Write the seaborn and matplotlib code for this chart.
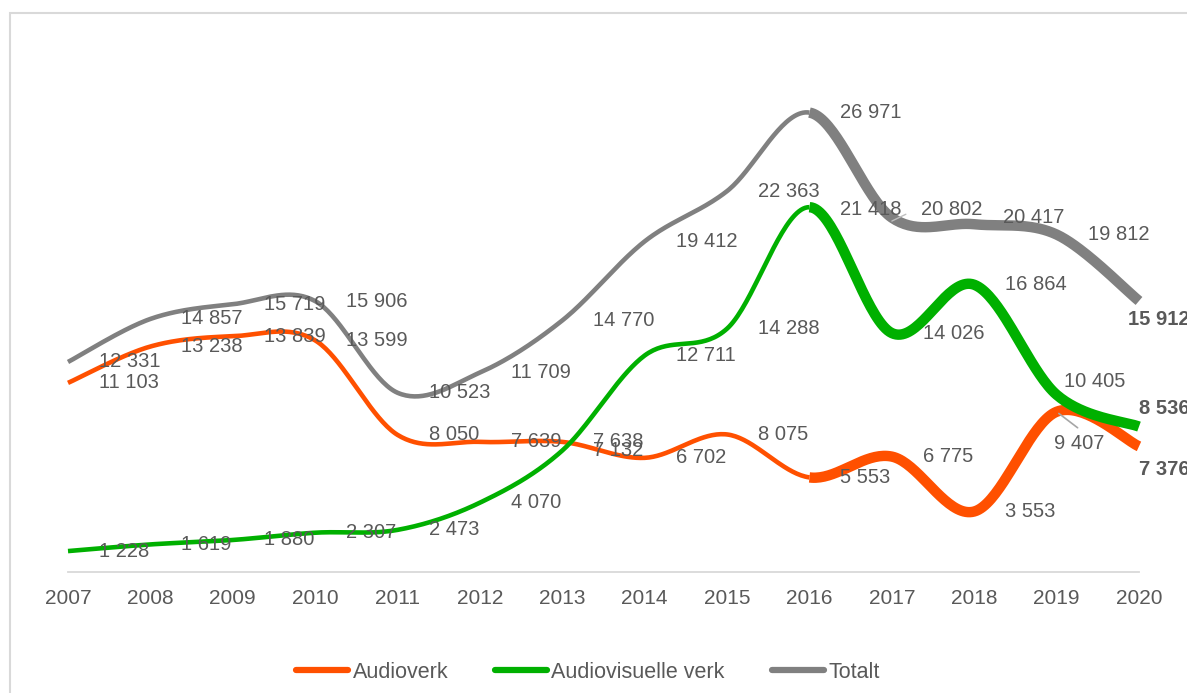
import numpy as np
import matplotlib.pyplot as plt
import seaborn as sns
from matplotlib.lines import Line2D
from matplotlib.patches import Rectangle

years = list(range(2007, 2021))
audioverk = [11103, 13238, 13839, 13599, 8050, 7639, 7638, 6702, 8075, 5553, 6775, 3553, 9407, 7376]
audiovisuelle = [1228, 1619, 1880, 2307, 2473, 4070, 7132, 12711, 14288, 21418, 14026, 16864, 10405, 8536]
totalt = [12331, 14857, 15719, 15906, 10523, 11709, 14770, 19412, 22363, 26971, 20802, 20417, 19812, 15912]

names = ["Audioverk", "Audiovisuelle verk", "Totalt"]
colors = ["#FF5000", "#00B000", "#808080"]
text_col = "#595959"

sns.set_style('white')
plt.rcParams['font.family'] = ['Liberation Sans', 'DejaVu Sans']


def smooth(x, y, n=40):
    # Excel-like smoothed line: cubic bezier with catmull-rom control points
    x = np.asarray(x, float)
    y = np.asarray(y, float)
    px = np.concatenate([[x[0]], x, [x[-1]]])
    py = np.concatenate([[y[0]], y, [y[-1]]])
    t = np.linspace(0, 1, n)[:, None]
    segs = []
    for i in range(len(x) - 1):
        p0 = np.array([px[i], py[i]])
        p1 = np.array([px[i + 1], py[i + 1]])
        p2 = np.array([px[i + 2], py[i + 2]])
        p3 = np.array([px[i + 3], py[i + 3]])
        c1 = p1 + (p2 - p0) / 6
        c2 = p2 - (p3 - p1) / 6
        b = ((1 - t) ** 3) * p1 + 3 * ((1 - t) ** 2) * t * c1 + 3 * (1 - t) * t ** 2 * c2 + t ** 3 * p2
        segs.append(b)
    return segs


fig = plt.figure(figsize=(11.87, 6.93), dpi=100)
ax = fig.add_axes([68 / 1187, 121 / 693, 1071 / 1187, 511 / 693])

split = years.index(2016)
for vals, col in zip([audioverk, audiovisuelle, totalt], colors):
    segs = smooth(years, vals)
    thin = np.vstack(segs[:split])
    thick = np.vstack(segs[split:])
    sns.lineplot(x=thin[:, 0], y=thin[:, 1], sort=False, estimator=None, ax=ax,
                 color=col, lw=3.3, solid_capstyle='butt', clip_on=False)
    sns.lineplot(x=thick[:, 0], y=thick[:, 1], sort=False, estimator=None, ax=ax,
                 color=col, lw=7.5, solid_capstyle='butt', clip_on=False)

# data labels, offsets in pixels (right, down)
offsets = {
    ("Totalt", 2017): (29, -8),
    ("Totalt", 2018): (29, -7),
    ("Audiovisuelle verk", 2016): (31, 2),
    ("Audiovisuelle verk", 2019): (7, -13),
    ("Audioverk", 2019): (-3, 32),
    ("Totalt", 2020): (-11, 19),
    ("Audiovisuelle verk", 2020): (0, -18),
    ("Audioverk", 2020): (0, 23),
}
for name, vals in zip(names, [audioverk, audiovisuelle, totalt]):
    for yr, v in zip(years, vals):
        dx, dy = offsets.get((name, yr), (31, 0))
        ax.annotate(f"{v:,}".replace(",", " "), (yr, v), xytext=(dx * 0.72, -dy * 0.72),
                    textcoords='offset points', ha='left', va='center', fontsize=14.5,
                    color=text_col, fontweight='bold' if yr == 2020 else 'normal',
                    annotation_clip=False)

# leader lines
ax.annotate("", (2019, audioverk[12]), xytext=(2019 + 21 / 82.4, audioverk[12] - 16 / 0.01703),
            arrowprops=dict(arrowstyle='-', color='#a6a6a6', lw=1.2, shrinkA=0, shrinkB=2))
ax.plot([2017, 2017 + 14 / 82.4], [20802 - 200, 20802 + 200], color='#bfbfbf', lw=1)

ax.set_xlim(2007, 2020)
ax.set_ylim(0, 30000)
ax.set_xticks(years)
ax.set_xticklabels([str(y) for y in years])
ax.set_yticks([])
ax.tick_params(axis='x', length=0, pad=12, labelsize=15, labelcolor=text_col)
sns.despine(ax=ax, left=True, top=True, right=True)
ax.spines['bottom'].set_color('#d9d9d9')
ax.spines['bottom'].set_linewidth(1.3)
ax.set_xlabel('')
ax.set_ylabel('')

handles = [Line2D([0], [0], color=c, lw=4.5, solid_capstyle='round') for c in colors]
leg = fig.legend(handles, names, loc='center', bbox_to_anchor=(588 / 1187, 1 - 672 / 693),
                 ncol=3, frameon=False, handlelength=2.4, handletextpad=0.2,
                 columnspacing=2.2, fontsize=15.5)
for t in leg.get_texts():
    t.set_color(text_col)

# chart border
fig.add_artist(Rectangle((10 / 1187, -0.1), 1.2, (693 - 13) / 693 + 0.1,
                         transform=fig.transFigure, fill=False, edgecolor='#d9d9d9', lw=1.5))

fig.savefig("out.png", dpi=100)
